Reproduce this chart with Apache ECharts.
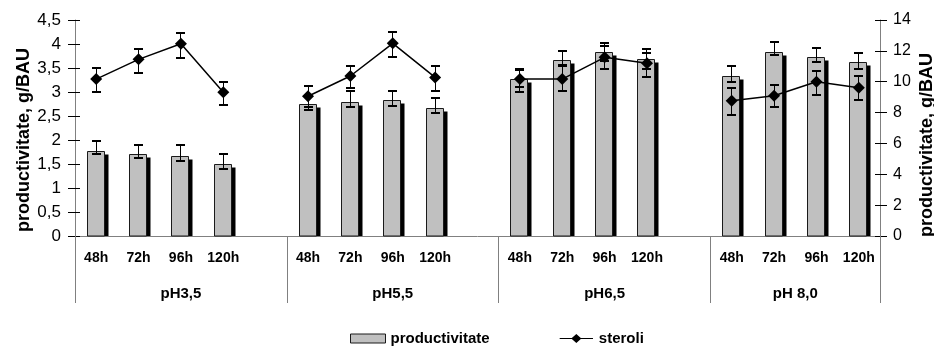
<!DOCTYPE html>
<html>
<head>
<meta charset="utf-8">
<script src="https://cdn.jsdelivr.net/npm/echarts@6/dist/echarts.min.js"></script>
<style>
html,body{margin:0;padding:0;background:#fff;}
#c{width:934px;height:346px;}
</style>
</head>
<body>
<div id="c"></div>
<script>
const hours = ['48h', '72h', '96h', '120h'];
const groups = ['pH3,5', 'pH5,5', 'pH6,5', 'pH 8,0'];
const leftTicks = [0, 0.5, 1, 1.5, 2, 2.5, 3, 3.5, 4, 4.5];
const rightTicks = [0, 2, 4, 6, 8, 10, 12, 14];

const productivitate = [1.78, 1.70, 1.67, 1.51, 2.75, 2.80, 2.83, 2.66, 3.28, 3.67, 3.84, 3.69, 3.34, 3.84, 3.72, 3.62];
const prodLow  = [1.71, 1.62, 1.57, 1.40, 2.62, 2.68, 2.71, 2.56, 3.10, 3.56, 3.65, 3.48, 3.21, 3.77, 3.63, 3.48];
const prodHigh = [1.98, 1.90, 1.90, 1.71, 2.92, 3.03, 3.02, 2.87, 3.46, 3.86, 4.03, 3.90, 3.55, 4.05, 3.91, 3.82];

const steroli = [10.17, 11.45, 12.46, 9.31, 9.06, 10.37, 12.49, 10.28, 10.17, 10.17, 11.58, 11.19, 8.77, 9.09, 10.00, 9.61];
const sterLow  = [9.35, 10.58, 11.56, 8.49, 8.35, 9.57, 11.58, 9.42, 9.35, 9.42, 10.80, 10.28, 7.84, 8.34, 9.14, 8.81];
const sterHigh = [10.90, 12.12, 13.16, 10.00, 9.72, 11.04, 13.20, 11.04, 10.82, 11.02, 12.33, 11.84, 9.57, 9.79, 10.71, 10.37];

// build slot categories (blank slot between groups)
const slots = [];
const slotIdx = [];
groups.forEach((g, gi) => {
  hours.forEach((h, hi) => { slotIdx.push(slots.length); slots.push(h); });
  if (gi < groups.length - 1) slots.push('');
});
const groupBounds = [0];
const groupCenters = [];
groups.forEach((g, gi) => {
  const start = gi * 5;
  const end = (gi < groups.length - 1) ? start + 5 : slots.length;
  groupBounds.push(end);
  groupCenters.push((start + end) / 2);
});

const barData = productivitate.map((v, i) => [slotIdx[i], v]);
const prodErr = productivitate.map((v, i) => [slotIdx[i], prodLow[i], prodHigh[i]]);
const lineData = slots.map(() => null);
steroli.forEach((v, i) => { lineData[slotIdx[i]] = v; });
const sterErr = steroli.map((v, i) => [slotIdx[i], sterLow[i], sterHigh[i]]);

function renderBar(params, api) {
  const x = api.value(0), v = api.value(1);
  const top = api.coord([x, v]);
  const base = api.coord([x, 0]);
  const bw = api.size([1, 0])[0] * 0.4;
  const left = Math.round(top[0] - bw / 2 - 1) + 0.5;
  const w = Math.round(bw);
  const t = Math.round(top[1]) + 0.5;
  const b = base[1];
  return {
    type: 'group',
    children: [
      { type: 'rect', shape: { x: left + w, y: t + 3, width: 4, height: b - t - 3 }, style: { fill: '#000' } },
      { type: 'rect', shape: { x: left, y: t, width: w, height: b - t }, style: { fill: '#c0c0c0', stroke: '#1a1a1a', lineWidth: 1 } }
    ]
  };
}

function renderErr(params, api) {
  const x = api.value(0), lo = api.value(1), hi = api.value(2);
  const p1 = api.coord([x, lo]), p2 = api.coord([x, hi]);
  const cx = Math.round(p1[0] - 0.5) + 0.5;
  const y1 = Math.round(p1[1]), y2 = Math.round(p2[1]);
  const cap = 4.5;
  return {
    type: 'group',
    children: [
      { type: 'line', shape: { x1: cx, y1: y1, x2: cx, y2: y2 }, style: { stroke: '#000', lineWidth: 1 } },
      { type: 'line', shape: { x1: cx - cap, y1: y1, x2: cx + cap, y2: y1 }, style: { stroke: '#000', lineWidth: 2 } },
      { type: 'line', shape: { x1: cx - cap, y1: y2, x2: cx + cap, y2: y2 }, style: { stroke: '#000', lineWidth: 2 } }
    ]
  };
}

const axisGray = '#808080';
const comma = v => String(v).replace('.', ',');
const lineDiamondIcon = 'path://M0,4.4H13.5L18.5,0L23.5,4.4H37V5.6H23.5L18.5,10L13.5,5.6H0Z';

const chart = echarts.init(document.getElementById('c'), null, { renderer: 'canvas' });
chart.setOption({
  animation: false,
  backgroundColor: '#fff',
  textStyle: { fontFamily: 'Liberation Sans, Arial, sans-serif' },
  grid: { left: 75, right: 54, top: 20, bottom: 110, containLabel: false, outerBoundsMode: 'none' },
  legend: {
    left: 350, top: 331, padding: 0,
    itemWidth: 35, itemHeight: 9, itemGap: 70,
    textStyle: { fontSize: 15, fontWeight: 'bold', color: '#000', fontFamily: 'Liberation Sans, Arial, sans-serif' },
    data: [
      { name: 'productivitate', icon: 'rect', itemStyle: { color: '#c0c0c0', borderColor: '#1a1a1a', borderWidth: 1 } },
      { name: 'steroli', icon: lineDiamondIcon, itemStyle: { color: '#000', borderWidth: 0 } }
    ]
  },
  xAxis: [
    {
      type: 'category', data: slots, boundaryGap: true, position: 'bottom',
      axisLine: { show: true, lineStyle: { color: axisGray, width: 1 } },
      axisTick: { show: false },
      axisLabel: { interval: 0, margin: 15, fontSize: 14, fontWeight: 'bold', color: '#000' },
      splitLine: { show: false }
    },
    {
      type: 'value', min: 0, max: slots.length, position: 'bottom', offset: 0,
      axisLine: { show: false },
      axisTick: { show: true, customValues: groupBounds, length: 67, inside: false, lineStyle: { color: axisGray, width: 1 } },
      axisLabel: {
        customValues: groupCenters, margin: 50, fontSize: 15, fontWeight: 'bold', color: '#000',
        formatter: v => { const i = groupCenters.indexOf(v); return i >= 0 ? groups[i] : ''; }
      },
      splitLine: { show: false }
    }
  ],
  yAxis: [
    {
      type: 'value', min: 0, max: 4.5, interval: 0.5, position: 'left',
      axisLine: { show: true, lineStyle: { color: axisGray } },
      axisTick: { show: true, length: 7, lineStyle: { color: '#000' } },
      axisLabel: { margin: 14, fontSize: 17, color: '#000', formatter: comma, customValues: leftTicks },
      splitLine: { show: false },
      name: 'productivitate, g/BAU', nameLocation: 'middle', nameRotate: 90, nameGap: 42,
      nameMoveOverlap: false,
      nameTextStyle: { fontSize: 18, fontWeight: 'bold', color: '#000', padding: [0, 24, 0, 0] }
    },
    {
      type: 'value', min: 0, max: 14, interval: 2, position: 'right',
      axisLine: { show: true, lineStyle: { color: axisGray } },
      axisTick: { show: true, length: 7, lineStyle: { color: '#000' } },
      axisLabel: { margin: 13, fontSize: 16, color: '#000', customValues: rightTicks },
      splitLine: { show: false },
      name: 'productivitate, g/BAU', nameLocation: 'middle', nameRotate: 90, nameGap: 38,
      nameMoveOverlap: false,
      nameTextStyle: { fontSize: 18, fontWeight: 'bold', color: '#000', padding: [0, 34, 0, 0] }
    },
    {
      type: 'value', min: 0, max: 4.5, interval: 0.5, position: 'left', offset: 0,
      axisLine: { show: false }, axisLabel: { show: false }, splitLine: { show: false },
      axisTick: { show: true, inside: true, length: 5, lineStyle: { color: '#000' } }
    },
    {
      type: 'value', min: 0, max: 14, interval: 2, position: 'right', offset: 0,
      axisLine: { show: false }, axisLabel: { show: false }, splitLine: { show: false },
      axisTick: { show: true, inside: true, length: 5, lineStyle: { color: '#000' } }
    }
  ],
  visualMap: {
    type: 'piecewise', show: false, dimension: 0, seriesIndex: 2,
    pieces: [{ gt: 2, lt: 3, color: '#8a8a8a' }],
    outOfRange: { color: '#000' }
  },
  series: [
    {
      name: 'productivitate', type: 'custom', xAxisIndex: 0, yAxisIndex: 0,
      renderItem: renderBar, data: barData, z: 1,
      itemStyle: { color: '#c0c0c0' }, encode: { x: 0, y: 1 }
    },
    {
      name: 'prodErr', type: 'custom', xAxisIndex: 0, yAxisIndex: 0,
      renderItem: renderErr, data: prodErr, z: 2, encode: { x: 0, y: [1, 2] }
    },
    {
      name: 'steroli', type: 'line', xAxisIndex: 0, yAxisIndex: 1,
      data: lineData, connectNulls: false, z: 3,
      symbol: 'diamond', symbolSize: 12, showAllSymbol: true,
      lineStyle: { color: '#000', width: 1.5 },
      itemStyle: { color: '#000' }
    },
    {
      name: 'sterErr', type: 'custom', xAxisIndex: 0, yAxisIndex: 1,
      renderItem: renderErr, data: sterErr, z: 4, encode: { x: 0, y: [1, 2] }
    }
  ]
});
</script>
</body>
</html>
